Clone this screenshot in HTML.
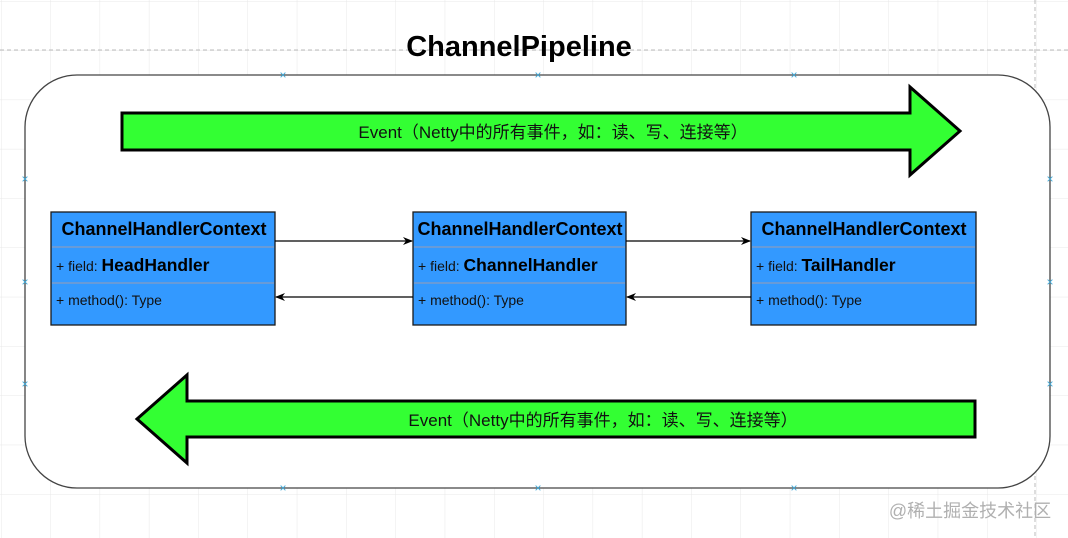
<!DOCTYPE html>
<html><head><meta charset="utf-8"><style>
html,body{margin:0;padding:0;background:#fff}
svg{display:block}
text{font-family:"Liberation Sans","Noto Sans CJK SC",sans-serif}
</style></head><body>
<svg width="1068" height="538" viewBox="0 0 1068 538" xmlns="http://www.w3.org/2000/svg">
<defs>
<pattern id="g" x="1" y="1" width="49.3" height="49.3" patternUnits="userSpaceOnUse">
<path d="M0 0H49.3M0 0V49.3" stroke="#e8e8e8" stroke-width="1" fill="none"/>
</pattern>
<marker id="ar" markerWidth="10" markerHeight="10" refX="9" refY="5" orient="auto" markerUnits="userSpaceOnUse">
<path d="M0 1L10 5L0 9L3 5Z" fill="#000"/>
</marker>
</defs>
<rect width="1068" height="538" fill="url(#g)"/>
<line x1="0" y1="50" x2="1068" y2="50" stroke="#bbb" stroke-dasharray="4 3"/>
<line x1="1035" y1="0" x2="1035" y2="538" stroke="#bbb" stroke-dasharray="4 3"/>
<text x="519" y="56" text-anchor="middle" font-size="29" font-weight="bold" fill="#000">ChannelPipeline</text>
<rect x="25" y="75" width="1025" height="413" rx="52" fill="#fff" stroke="#444" stroke-width="1.3"/>
<path d="M122 113H910V87L960 131L910 175V150H122Z" fill="#33ff33" stroke="#000" stroke-width="3"/>
<text x="553" y="138" text-anchor="middle" font-size="17" fill="#111">Event（Netty中的所有事件，如：读、写、连接等）</text>
<path d="M975 401H187V375L137 419L187 463V437H975Z" fill="#33ff33" stroke="#000" stroke-width="3"/>
<text x="603" y="426" text-anchor="middle" font-size="17" fill="#111">Event（Netty中的所有事件，如：读、写、连接等）</text>
<g stroke="#1a1a1a" stroke-width="1.3">
<rect x="51" y="212" width="224" height="113" fill="#3399ff"/>
<rect x="413" y="212" width="213" height="113" fill="#3399ff"/>
<rect x="751" y="212" width="225" height="113" fill="#3399ff"/>
</g>
<g stroke="#7a9ccc" stroke-width="1.5">
<line x1="52" y1="247" x2="274" y2="247"/><line x1="52" y1="283" x2="274" y2="283"/>
<line x1="414" y1="247" x2="625" y2="247"/><line x1="414" y1="283" x2="625" y2="283"/>
<line x1="752" y1="247" x2="975" y2="247"/><line x1="752" y1="283" x2="975" y2="283"/>
</g>
<g font-size="18" font-weight="bold" fill="#000" text-anchor="middle">
<text x="164" y="235">ChannelHandlerContext</text>
<text x="520" y="235">ChannelHandlerContext</text>
<text x="864" y="235">ChannelHandlerContext</text>
</g>
<g font-size="14" fill="#111">
<text x="56" y="271">+ field: <tspan font-size="17.5" font-weight="bold" fill="#000">HeadHandler</tspan></text>
<text x="418" y="271">+ field: <tspan font-size="17.5" font-weight="bold" fill="#000">ChannelHandler</tspan></text>
<text x="756" y="271">+ field: <tspan font-size="17.5" font-weight="bold" fill="#000">TailHandler</tspan></text>
<text x="56" y="305">+ method(): Type</text>
<text x="418" y="305">+ method(): Type</text>
<text x="756" y="305">+ method(): Type</text>
</g>
<g stroke="#000" stroke-width="1.2">
<line x1="275" y1="241" x2="412" y2="241" marker-end="url(#ar)"/>
<line x1="413" y1="297" x2="276" y2="297" marker-end="url(#ar)"/>
<line x1="626" y1="241" x2="750" y2="241" marker-end="url(#ar)"/>
<line x1="751" y1="297" x2="627" y2="297" marker-end="url(#ar)"/>
</g>
<g fill="#3fa9d8" font-size="12" text-anchor="middle">
<text x="283" y="79">×</text><text x="538" y="79">×</text><text x="794" y="79">×</text>
<text x="283" y="492">×</text><text x="538" y="492">×</text><text x="794" y="492">×</text>
<text x="25" y="183">×</text><text x="25" y="286">×</text><text x="25" y="388">×</text>
<text x="1050" y="183">×</text><text x="1050" y="286">×</text><text x="1050" y="388">×</text>
</g>
<text x="970" y="517" text-anchor="middle" font-size="18" fill="#b0b0b0">@稀土掘金技术社区</text>
</svg>
</body></html>
